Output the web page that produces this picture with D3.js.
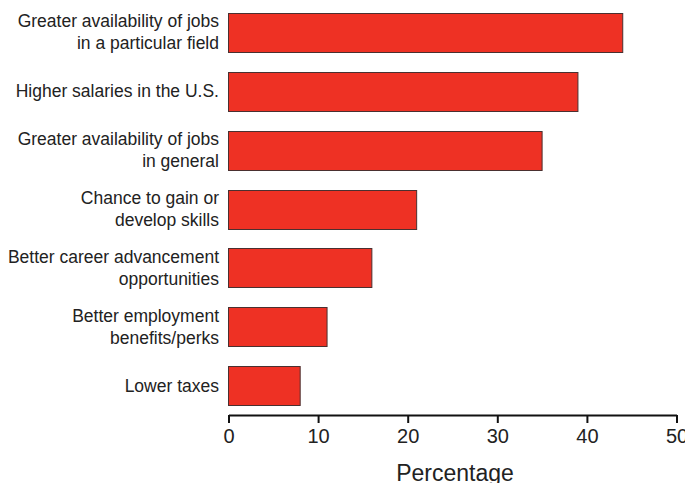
<!DOCTYPE html>
<html><head><meta charset="utf-8">
<script src="https://cdn.jsdelivr.net/npm/d3@7"></script>
<style>body{margin:0;background:#fff}svg{display:block}</style>
</head><body>
<script>
const categories = [
  ["Greater availability of jobs","in a particular field"],
  ["Higher salaries in the U.S."],
  ["Greater availability of jobs","in general"],
  ["Chance to gain or","develop skills"],
  ["Better career advancement","opportunities"],
  ["Better employment","benefits/perks"],
  ["Lower taxes"]
];
const values = [44, 39, 35, 21, 16, 11, 8];
const tickValues = [0, 10, 20, 30, 40, 50];
const xTitle = "Percentage";

const W = 685, H = 483;
const svg = d3.select("body").append("svg").attr("width", W).attr("height", H);
const x = d3.scaleLinear().domain([0, 50]).range([228.5, 676.5]);
const y = d3.scaleBand().domain(d3.range(categories.length)).range([3, 415]).paddingInner(0.34).paddingOuter(0.17);

svg.selectAll("rect.bar").data(values).join("rect")
  .attr("x", x(0)).attr("y", (d,i) => Math.round(y(i)) + 0.5)
  .attr("width", d => x(d) - x(0)).attr("height", Math.round(y.bandwidth()))
  .attr("fill", "#ee3124").attr("stroke", "#4a3030").attr("stroke-width", 1);

const lab = svg.selectAll("text.cat").data(categories).join("text")
  .attr("text-anchor", "end").attr("font-family", "Liberation Sans, Arial, sans-serif")
  .attr("font-size", 17.5).attr("fill", "#222");
lab.each(function(d, i) {
  const cy = y(i) + y.bandwidth() / 2;
  const lh = 22;
  const t = d3.select(this);
  d.forEach((line, k) => {
    t.append("tspan").attr("x", 219)
      .attr("y", cy + (k - (d.length - 1) / 2) * lh + 6).text(line);
  });
});

const axis = d3.axisBottom(x).tickValues(tickValues).tickSize(8).tickPadding(6).tickSizeOuter(0);
const g = svg.append("g").attr("transform", "translate(0,415)").call(axis);
g.select(".domain").attr("stroke", "#111").attr("stroke-width", 2);
g.selectAll(".tick line").attr("stroke", "#111").attr("stroke-width", 2);
g.selectAll(".tick text").attr("font-family", "Liberation Sans, Arial, sans-serif")
  .attr("font-size", 20).attr("fill", "#222");

svg.append("text").attr("x", 455).attr("y", 481).attr("text-anchor", "middle")
  .attr("font-family", "Liberation Sans, Arial, sans-serif").attr("font-size", 23)
  .attr("fill", "#222").text(xTitle);
</script>
</body></html>
